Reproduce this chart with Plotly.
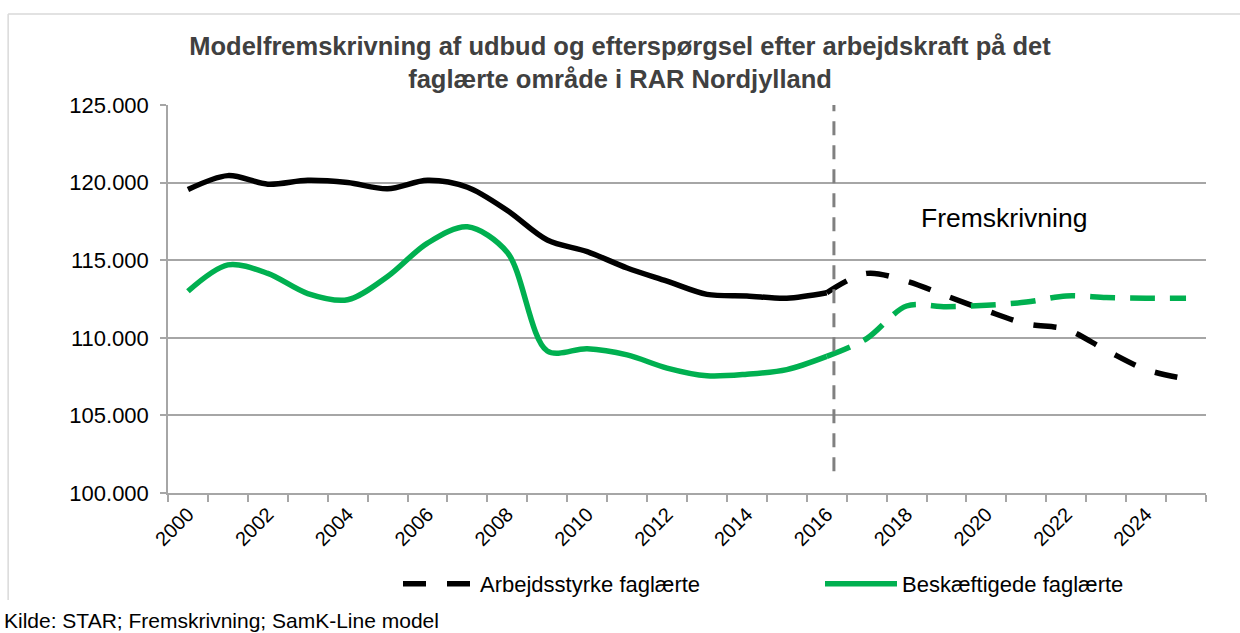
import plotly.graph_objects as go

# ---------------- data ----------------
years = list(range(2000, 2026))
arbejdsstyrke = [119550, 120450, 119900, 120150, 120000, 119600, 120150, 119700, 118200, 116300,
                 115550, 114500, 113650, 112800, 112700, 112550, 112900, 114150, 113650, 112700,
                 111750, 110900, 110550, 109200, 107950, 107350]
beskaeftigede = [113000, 114700, 114150, 112850, 112450, 113950, 116100, 117150, 115500, 109150,
                 109300, 108900, 108050, 107550, 107650, 107950, 108800, 109950, 112050, 112000,
                 112100, 112300, 112700, 112600, 112550, 112550]
last_actual_year = 2016
forecast_marker_x = 2016.18
forecast_marker_y = [101400, 125000]
tick_years = list(range(2000, 2025, 2))
tick_labels = [str(y) for y in tick_years]
y_ticks = [100000, 105000, 110000, 115000, 120000, 125000]

title_text = ("Modelfremskrivning af udbud og efterspørgsel efter arbejdskraft på det"
              "<br>faglærte område i RAR Nordjylland")
series_names = ["Arbejdsstyrke faglærte", "Beskæftigede faglærte"]
annotation_text = "Fremskrivning"
source_text = "Kilde: STAR; Fremskrivning; SamK-Line model"

# ---------------- styling ----------------
FONT = "Liberation Sans, Arial, sans-serif"
BLACK = "#000000"
GREEN = "#00B050"
GRID = "#a6a6a6"
LW = 5.5

split = years.index(last_actual_year)
hist_x, fc_x = years[:split + 1], years[split:]

fig = go.Figure()
fig.add_trace(go.Scatter(x=hist_x, y=arbejdsstyrke[:split + 1], mode="lines",
                         line=dict(color=BLACK, width=LW, shape="spline", smoothing=0.9),
                         legendgroup="a", showlegend=False, name=series_names[0]))
fig.add_trace(go.Scatter(x=fc_x, y=arbejdsstyrke[split:], mode="lines",
                         line=dict(color=BLACK, width=LW, shape="spline", smoothing=0.9,
                                   dash="23px,21px"),
                         legendgroup="a", showlegend=True, name=series_names[0]))
fig.add_trace(go.Scatter(x=hist_x, y=beskaeftigede[:split + 1], mode="lines",
                         line=dict(color=GREEN, width=LW, shape="spline", smoothing=0.9),
                         legendgroup="b", showlegend=True, name=series_names[1]))
fig.add_trace(go.Scatter(x=fc_x, y=beskaeftigede[split:], mode="lines",
                         line=dict(color=GREEN, width=LW, shape="spline", smoothing=0.9,
                                   dash="25px,15px"),
                         legendgroup="b", showlegend=False, name=series_names[1]))

# vertical forecast marker
fig.add_shape(type="line", xref="x", yref="y",
              x0=forecast_marker_x, x1=forecast_marker_x,
              y0=forecast_marker_y[0], y1=forecast_marker_y[1],
              line=dict(color="#808080", width=3, dash="14px,10px"))

# frame around chart (light gray)
fig.add_shape(type="line", xref="paper", yref="paper", x0=-0.154, x1=1.1, y0=1.2345, y1=1.2345,
              line=dict(color="#d9d9d9", width=1.5))
fig.add_shape(type="line", xref="paper", yref="paper", x0=-0.154, x1=-0.154, y0=1.2345, y1=-0.276,
              line=dict(color="#d9d9d9", width=1.5))

fig.add_annotation(x=2020.44, y=117720, xref="x", yref="y", text=annotation_text,
                   showarrow=False, font=dict(family=FONT, size=26.5, color=BLACK))
fig.add_annotation(x=(2 - 168) / 1038, y=(493 - 620) / 388, xref="paper", yref="paper",
                   text=source_text, showarrow=False, xanchor="left", yanchor="middle",
                   font=dict(family=FONT, size=21, color=BLACK))

fig.update_layout(
    width=1240, height=633,
    margin=dict(l=168, r=34, t=105, b=140, autoexpand=False),
    paper_bgcolor="white", plot_bgcolor="white",
    separators=",.",
    title=dict(text=title_text, x=0.5, xref="container", xanchor="center",
               y=1 - 55 / 633, yref="container", yanchor="middle",
               font=dict(family=FONT, size=25.5, color="#404040", weight="bold")),
    font=dict(family=FONT, size=21, color=BLACK),
    legend=dict(orientation="h", x=(398 - 168) / 1038, xanchor="left",
                y=(493 - 584) / 388, yanchor="middle",
                itemwidth=72, entrywidth=335, font=dict(family=FONT, size=22, color=BLACK),
                bgcolor="rgba(0,0,0,0)"),
    showlegend=True,
)

fig.update_xaxes(range=[1999.5, 2025.5], tickmode="array", tickvals=tick_years, ticktext=tick_labels,
                 tickangle=-45, ticks="", showgrid=False, zeroline=False,
                 showline=True, linecolor=GRID, linewidth=1.5,
                 tickfont=dict(family=FONT, size=20, color=BLACK),
                 minor=dict(tick0=1999.5, dtick=1, ticks="outside", ticklen=7,
                            tickcolor=GRID, tickwidth=1.5, showgrid=False))
fig.update_yaxes(range=[100000, 125000], tickmode="array", tickvals=y_ticks, tickformat=",d",
                 ticks="outside", ticklen=6, tickcolor=GRID, tickwidth=1.5,
                 ticklabelstandoff=7,
                 showgrid=True, gridcolor=GRID, gridwidth=1.5, zeroline=False,
                 showline=True, linecolor=GRID, linewidth=1.5,
                 tickfont=dict(family=FONT, size=22, color=BLACK))

fig.write_html("out.html", config={"displayModeBar": False},
               post_script="document.body.style.margin='0px';")
